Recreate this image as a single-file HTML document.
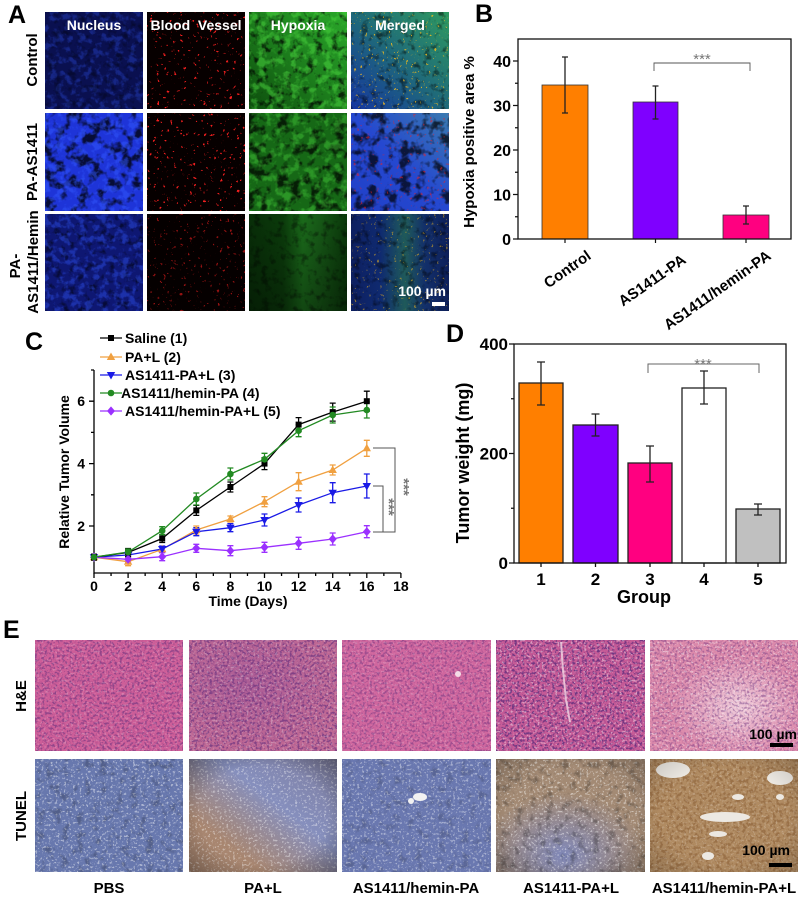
<!DOCTYPE html>
<html><head><meta charset="utf-8"><style>
html,body{margin:0;padding:0;background:#fff;}
svg{display:block;}
text{font-family:"Liberation Sans",Arial,sans-serif;font-weight:bold;}
</style></head><body>
<svg width="805" height="900" viewBox="0 0 805 900" xmlns="http://www.w3.org/2000/svg">
<defs>
<filter id="fDk" x="0" y="0" width="1" height="1" color-interpolation-filters="sRGB"><feTurbulence type="fractalNoise" baseFrequency="0.09" numOctaves="3" seed="1"/><feColorMatrix type="matrix" values="0 0 0 0 0 0 0 0 0 0 0 0 0 0 0 -5 0 0 0 2.6"/></filter>
<filter id="fDk2" x="0" y="0" width="1" height="1" color-interpolation-filters="sRGB"><feTurbulence type="fractalNoise" baseFrequency="0.13" numOctaves="3" seed="3"/><feColorMatrix type="matrix" values="0 0 0 0 0 0 0 0 0 0 0 0 0 0 0 -4 0 0 0 1.9"/></filter>
<filter id="fBl" x="0" y="0" width="1" height="1" color-interpolation-filters="sRGB"><feTurbulence type="fractalNoise" baseFrequency="0.14" numOctaves="3" seed="6"/><feColorMatrix type="matrix" values="0 0 0 0 0.2 0 0 0 0 0.35 0 0 0 0 1 5 0 0 0 -2.4"/></filter>
<filter id="fGn" x="0" y="0" width="1" height="1" color-interpolation-filters="sRGB"><feTurbulence type="fractalNoise" baseFrequency="0.12" numOctaves="3" seed="8"/><feColorMatrix type="matrix" values="0 0 0 0 0.3 0 0 0 0 0.85 0 0 0 0 0.25 5 0 0 0 -2.4"/></filter>
<filter id="fRd" x="0" y="0" width="1" height="1" color-interpolation-filters="sRGB"><feTurbulence type="fractalNoise" baseFrequency="0.3" numOctaves="2" seed="7"/><feColorMatrix type="matrix" values="0 0 0 0 0.95 0 0 0 0 0.12 0 0 0 0 0.12 14 0 0 0 -9.5"/></filter>
<filter id="fYl" x="0" y="0" width="1" height="1" color-interpolation-filters="sRGB"><feTurbulence type="fractalNoise" baseFrequency="0.35" numOctaves="2" seed="9"/><feColorMatrix type="matrix" values="0 0 0 0 1 0 0 0 0 0.75 0 0 0 0 0.1 14 0 0 0 -9.6"/></filter>
<filter id="fPu" x="0" y="0" width="1" height="1" color-interpolation-filters="sRGB"><feTurbulence type="fractalNoise" baseFrequency="0.4" numOctaves="2" seed="5"/><feColorMatrix type="matrix" values="0 0 0 0 0.42 0 0 0 0 0.2 0 0 0 0 0.5 5 0 0 0 -2.4"/></filter>
<filter id="fWs" x="0" y="0" width="1" height="1" color-interpolation-filters="sRGB"><feTurbulence type="fractalNoise" baseFrequency="0.45" numOctaves="2" seed="11"/><feColorMatrix type="matrix" values="0 0 0 0 1 0 0 0 0 1 0 0 0 0 1 8 0 0 0 -4.6"/></filter>
<filter id="fBr" x="0" y="0" width="1" height="1" color-interpolation-filters="sRGB"><feTurbulence type="fractalNoise" baseFrequency="0.3" numOctaves="2" seed="13"/><feColorMatrix type="matrix" values="0 0 0 0 0.55 0 0 0 0 0.38 0 0 0 0 0.22 6 0 0 0 -2.9"/></filter>

<linearGradient id="gA13" x1="1" y1="0" x2="0" y2="1"><stop offset="0" stop-color="#2aa82a"/><stop offset="0.5" stop-color="#1d7f1d"/><stop offset="1" stop-color="#0d4d0d"/></linearGradient>
<linearGradient id="gA14" x1="1" y1="0" x2="0" y2="1"><stop offset="0" stop-color="#2e9a60"/><stop offset="0.5" stop-color="#1f6a7a"/><stop offset="1" stop-color="#1535a0"/></linearGradient>
<linearGradient id="gA24" x1="1" y1="0" x2="0" y2="1"><stop offset="0" stop-color="#3a7ab0"/><stop offset="0.5" stop-color="#2548d0"/><stop offset="1" stop-color="#2040c8"/></linearGradient>
<linearGradient id="gA33" x1="0" y1="0" x2="1" y2="0"><stop offset="0" stop-color="#082e08"/><stop offset="0.35" stop-color="#0b3c0b"/><stop offset="0.55" stop-color="#1b6c1b"/><stop offset="0.72" stop-color="#175a17"/><stop offset="1" stop-color="#0a380a"/></linearGradient>
<linearGradient id="gA34" x1="0" y1="0" x2="1" y2="0"><stop offset="0" stop-color="#0d1f60"/><stop offset="0.3" stop-color="#0f2a70"/><stop offset="0.55" stop-color="#1f5a5a"/><stop offset="0.75" stop-color="#13306a"/><stop offset="1" stop-color="#0d1f5a"/></linearGradient>
<linearGradient id="gFadeB" x1="0" y1="0" x2="0" y2="1"><stop offset="0" stop-color="#000" stop-opacity="0"/><stop offset="1" stop-color="#000" stop-opacity="0.35"/></linearGradient>
<linearGradient id="gBlueBand" x1="0" y1="1" x2="1" y2="0"><stop offset="0.25" stop-color="#8290c6" stop-opacity="0"/><stop offset="0.6" stop-color="#8290c6" stop-opacity="0.9"/><stop offset="1" stop-color="#6f7cb4" stop-opacity="0.7"/></linearGradient>
<radialGradient id="gBlueLow" cx="0.45" cy="0.85" r="0.55"><stop offset="0" stop-color="#8088b8" stop-opacity="1"/><stop offset="1" stop-color="#8088b8" stop-opacity="0"/></radialGradient>
<radialGradient id="gVig" cx="0.5" cy="0.5" r="0.72"><stop offset="0.6" stop-color="#000" stop-opacity="0"/><stop offset="1" stop-color="#000" stop-opacity="0.35"/></radialGradient>
<radialGradient id="gWhite" cx="0.6" cy="0.6" r="0.45"><stop offset="0" stop-color="#fff" stop-opacity="0.55"/><stop offset="1" stop-color="#fff" stop-opacity="0"/></radialGradient>
<radialGradient id="gPurp" cx="0.4" cy="0.4" r="0.6"><stop offset="0" stop-color="#8a4a9a" stop-opacity="0.35"/><stop offset="1" stop-color="#8a4a9a" stop-opacity="0"/></radialGradient>

<path id="mSq" d="M-3,-3h6v6h-6z" fill="#000"/>
<path id="mUp" d="M0,-4.5L4.2,3L-4.2,3z" fill="#f0a040"/>
<path id="mDn" d="M-4.2,-3L4.2,-3L0,4.5z" fill="#1a1ae6"/>
<circle id="mCi" r="3.3" fill="#228a22"/>
<path id="mDi" d="M0,-4.6L4,0L0,4.6L-4,0z" fill="#9b30ff"/>
</defs>

<rect width="805" height="900" fill="#fff"/>

<!-- ================= PANEL A ================= -->
<text x="8" y="23" font-size="25">A</text>
<rect x="45" y="12" width="98" height="97" fill="#0a1050"/>
<rect x="45" y="12" width="98" height="97" filter="url(#fBl)" opacity="0.3"/>
<rect x="45" y="12" width="98" height="97" filter="url(#fDk2)" opacity="0.35"/>
<rect x="147" y="12" width="98" height="97" fill="#070000"/>
<rect x="147" y="12" width="98" height="97" filter="url(#fRd)"/>
<rect x="249" y="12" width="98" height="97" fill="url(#gA13)"/>
<rect x="249" y="12" width="98" height="97" filter="url(#fDk2)" opacity="0.7"/>
<rect x="249" y="12" width="98" height="97" filter="url(#fGn)" opacity="0.5"/>
<rect x="351" y="12" width="98" height="97" fill="url(#gA14)"/>
<rect x="351" y="12" width="98" height="97" filter="url(#fDk2)" opacity="0.5"/>
<rect x="351" y="12" width="98" height="97" filter="url(#fYl)" opacity="0.8"/>

<rect x="45" y="113" width="98" height="98" fill="#1e34d8"/>
<rect x="45" y="113" width="98" height="98" filter="url(#fDk)" opacity="0.75"/>
<rect x="45" y="113" width="98" height="98" filter="url(#fBl)" opacity="0.5"/>
<rect x="147" y="113" width="98" height="98" fill="#060000"/>
<rect x="147" y="113" width="98" height="98" filter="url(#fRd)"/>
<rect x="249" y="113" width="98" height="98" fill="#166816"/>
<rect x="249" y="113" width="98" height="98" filter="url(#fDk)" opacity="0.7"/>
<rect x="249" y="113" width="98" height="98" filter="url(#fGn)" opacity="0.4"/>
<rect x="351" y="113" width="98" height="98" fill="url(#gA24)"/>
<rect x="351" y="113" width="98" height="98" filter="url(#fDk)" opacity="0.7"/>
<rect x="351" y="113" width="98" height="98" filter="url(#fRd)" opacity="0.5"/>

<rect x="45" y="214" width="98" height="97" fill="#0e1772"/>
<rect x="45" y="214" width="98" height="97" filter="url(#fDk2)" opacity="0.5"/>
<rect x="45" y="214" width="98" height="97" filter="url(#fBl)" opacity="0.4"/>
<rect x="147" y="214" width="98" height="97" fill="#050000"/>
<rect x="147" y="214" width="98" height="97" filter="url(#fRd)" opacity="0.6"/>
<rect x="249" y="214" width="98" height="97" fill="url(#gA33)"/>
<rect x="249" y="214" width="98" height="97" fill="url(#gFadeB)"/>
<rect x="249" y="214" width="98" height="97" filter="url(#fDk2)" opacity="0.4"/>
<rect x="351" y="214" width="98" height="97" fill="url(#gA34)"/>
<rect x="351" y="214" width="98" height="97" filter="url(#fDk2)" opacity="0.45"/>
<rect x="351" y="214" width="98" height="97" filter="url(#fYl)" opacity="0.5"/>

<g fill="#fff" font-size="14" text-anchor="middle">
<text x="94" y="30">Nucleus</text>
<text x="196" y="30" xml:space="preserve">Blood  Vessel</text>
<text x="298" y="30">Hypoxia</text>
<text x="400" y="30">Merged</text>
</g>
<g font-size="15" text-anchor="middle">
<text transform="translate(37,60) rotate(-90)">Control</text>
<text transform="translate(37,162) rotate(-90)">PA-AS1411</text>
<text transform="translate(20,266) rotate(-90)">PA-</text>
<text transform="translate(38,262) rotate(-90)">AS1411/Hemin</text>
</g>
<text x="446" y="296" font-size="14" fill="#fff" text-anchor="end">100 µm</text>
<rect x="432" y="302" width="13" height="4" fill="#fff"/>

<!-- ================= PANEL B ================= -->
<text x="475" y="22" font-size="25">B</text>
<rect x="542" y="85" width="46" height="154" fill="#ff7f00" stroke="#333" stroke-width="0.8"/>
<rect x="633" y="102" width="45" height="137" fill="#7f00ff" stroke="#333" stroke-width="0.8"/>
<rect x="723" y="215" width="46" height="24" fill="#ff0080" stroke="#333" stroke-width="0.8"/>
<g stroke="#222" stroke-width="1.3" fill="none">
<path d="M565 57V113M562 57h6M562 113h6"/>
<path d="M655.5 86V119M652.5 86h6M652.5 119h6"/>
<path d="M746 206V224M743 206h6M743 224h6"/>
</g>
<rect x="518" y="39" width="273" height="200" fill="none" stroke="#111" stroke-width="1.3"/>
<g stroke="#111" stroke-width="1.2">
<path d="M513 239h5M513 194.5h5M513 150h5M513 105.5h5M513 61h5"/>
<path d="M515 216.75h3M515 172.25h3M515 127.75h3M515 83.25h3"/>
<path d="M565 239v4M655.5 239v4M746 239v4"/>
</g>
<g font-size="16" text-anchor="end">
<text x="511" y="245">0</text>
<text x="511" y="200.5">10</text>
<text x="511" y="156">20</text>
<text x="511" y="111.5">30</text>
<text x="511" y="67">40</text>
</g>
<text transform="translate(474,142) rotate(-90)" font-size="15" text-anchor="middle">Hypoxia positive area %</text>
<g font-size="15" text-anchor="end">
<text transform="translate(592,258) rotate(-35)">Control</text>
<text transform="translate(687,262) rotate(-35)">AS1411-PA</text>
<text transform="translate(772,258) rotate(-35)">AS1411/hemin-PA</text>
</g>
<path d="M654 71V63H750V71" stroke="#555" stroke-width="0.9" fill="none"/>
<text x="702" y="64" font-size="15" fill="#777" text-anchor="middle" style="font-weight:normal">***</text>

<!-- ================= PANEL C ================= -->
<text x="25" y="350" font-size="25">C</text>
<g stroke="#000" stroke-width="1.3">
<path d="M94 370V573H401" fill="none"/>
<path d="M94 573v5M128.1 573v5M162.2 573v5M196.3 573v5M230.4 573v5M264.5 573v5M298.6 573v5M332.7 573v5M366.8 573v5M400.9 573v5"/>
<path d="M111.05 573v3M145.15 573v3M179.25 573v3M213.35 573v3M247.45 573v3M281.55 573v3M315.65 573v3M349.75 573v3M383.85 573v3"/>
<path d="M89 526h5M89 463.6h5M89 401.2h5"/>
<path d="M91 557.2h3M91 494.8h3M91 432.4h3M91 370h3"/>
</g>
<g font-size="14" text-anchor="middle">
<text x="94" y="591">0</text><text x="128.1" y="591">2</text><text x="162.2" y="591">4</text><text x="196.3" y="591">6</text><text x="230.4" y="591">8</text><text x="264.5" y="591">10</text><text x="298.6" y="591">12</text><text x="332.7" y="591">14</text><text x="366.8" y="591">16</text><text x="400.9" y="591">18</text>
</g>
<g font-size="14" text-anchor="end">
<text x="85" y="531">2</text><text x="85" y="468.6">4</text><text x="85" y="406.2">6</text>
</g>
<text transform="translate(69,472) rotate(-90)" font-size="14" text-anchor="middle">Relative Tumor Volume</text>
<text x="248" y="606" font-size="14" text-anchor="middle">Time (Days)</text>

<g fill="none" stroke-width="1.3">
<polyline stroke="#f0a040" points="94,557.2 128.1,561.7 162.2,549.3 196.3,530 230.4,519 264.5,501.7 298.6,481.7 332.7,470 366.8,448.3"/>
<path stroke="#f0a040" d="M128.1 557.7V565.7M125.1 557.7h6M125.1 565.7h6M162.2 546.3V552.3M159.2 546.3h6M159.2 552.3h6M196.3 526V534M193.3 526h6M193.3 534h6M230.4 516V522M227.4 516h6M227.4 522h6M264.5 496.7V506.7M261.5 496.7h6M261.5 506.7h6M298.6 472.7V490.7M295.6 472.7h6M295.6 490.7h6M332.7 465V475M329.7 465h6M329.7 475h6M366.8 440.3V456.3M363.8 440.3h6M363.8 456.3h6"/>
<polyline stroke="#1a1ae6" points="94,557.2 128.1,555 162.2,549 196.3,531.7 230.4,527.7 264.5,520 298.6,505 332.7,492.7 366.8,486"/>
<path stroke="#1a1ae6" d="M128.1 552V558M125.1 552h6M125.1 558h6M162.2 546V552M159.2 546h6M159.2 552h6M196.3 527.7V535.7M193.3 527.7h6M193.3 535.7h6M230.4 523.7V531.7M227.4 523.7h6M227.4 531.7h6M264.5 514V526M261.5 514h6M261.5 526h6M298.6 498V512M295.6 498h6M295.6 512h6M332.7 482.7V502.7M329.7 482.7h6M329.7 502.7h6M366.8 474V498M363.8 474h6M363.8 498h6"/>
<polyline stroke="#9b30ff" points="94,557.2 128.1,559.3 162.2,556.7 196.3,548.3 230.4,550.7 264.5,547.3 298.6,543.3 332.7,539 366.8,531.7"/>
<path stroke="#9b30ff" d="M128.1 556.3V562.3M125.1 556.3h6M125.1 562.3h6M162.2 552.7V560.7M159.2 552.7h6M159.2 560.7h6M196.3 544.3V552.3M193.3 544.3h6M193.3 552.3h6M230.4 545.7V555.7M227.4 545.7h6M227.4 555.7h6M264.5 542.3V552.3M261.5 542.3h6M261.5 552.3h6M298.6 537.3V549.3M295.6 537.3h6M295.6 549.3h6M332.7 533V545M329.7 533h6M329.7 545h6M366.8 525.7V537.7M363.8 525.7h6M363.8 537.7h6"/>
<polyline stroke="#000" points="94,557.2 128.1,552.5 162.2,538.5 196.3,510.4 230.4,487 264.5,463.6 298.6,424.6 332.7,412.1 366.8,401.2"/>
<path stroke="#000" d="M94 554.2V560.2M91 554.2h6M91 560.2h6M128.1 548.5V556.5M125.1 548.5h6M125.1 556.5h6M162.2 534.5V542.5M159.2 534.5h6M159.2 542.5h6M196.3 505.4V515.4M193.3 505.4h6M193.3 515.4h6M230.4 482V492M227.4 482h6M227.4 492h6M264.5 457.6V469.6M261.5 457.6h6M261.5 469.6h6M298.6 417.6V431.6M295.6 417.6h6M295.6 431.6h6M332.7 403.1V421.1M329.7 403.1h6M329.7 421.1h6M366.8 391.2V411.2M363.8 391.2h6M363.8 411.2h6"/>
<polyline stroke="#228a22" points="94,557.2 128.1,552 162.2,530.7 196.3,499 230.4,474 264.5,459.3 298.6,430.7 332.7,415 366.8,410"/>
<path stroke="#228a22" d="M128.1 549V555M125.1 549h6M125.1 555h6M162.2 526.7V534.7M159.2 526.7h6M159.2 534.7h6M196.3 493V505M193.3 493h6M193.3 505h6M230.4 468V480M227.4 468h6M227.4 480h6M264.5 453.3V465.3M261.5 453.3h6M261.5 465.3h6M298.6 424.7V436.7M295.6 424.7h6M295.6 436.7h6M332.7 407V423M329.7 407h6M329.7 423h6M366.8 402V418M363.8 402h6M363.8 418h6"/>
</g>
<g>
<use href="#mUp" x="94" y="557.2"/><use href="#mUp" x="128.1" y="561.7"/><use href="#mUp" x="162.2" y="549.3"/><use href="#mUp" x="196.3" y="530"/><use href="#mUp" x="230.4" y="519"/><use href="#mUp" x="264.5" y="501.7"/><use href="#mUp" x="298.6" y="481.7"/><use href="#mUp" x="332.7" y="470"/><use href="#mUp" x="366.8" y="448.3"/>
<use href="#mDn" x="94" y="557.2"/><use href="#mDn" x="128.1" y="555"/><use href="#mDn" x="162.2" y="549"/><use href="#mDn" x="196.3" y="531.7"/><use href="#mDn" x="230.4" y="527.7"/><use href="#mDn" x="264.5" y="520"/><use href="#mDn" x="298.6" y="505"/><use href="#mDn" x="332.7" y="492.7"/><use href="#mDn" x="366.8" y="486"/>
<use href="#mDi" x="94" y="557.2"/><use href="#mDi" x="128.1" y="559.3"/><use href="#mDi" x="162.2" y="556.7"/><use href="#mDi" x="196.3" y="548.3"/><use href="#mDi" x="230.4" y="550.7"/><use href="#mDi" x="264.5" y="547.3"/><use href="#mDi" x="298.6" y="543.3"/><use href="#mDi" x="332.7" y="539"/><use href="#mDi" x="366.8" y="531.7"/>
<use href="#mSq" x="94" y="557.2"/><use href="#mSq" x="128.1" y="552.5"/><use href="#mSq" x="162.2" y="538.5"/><use href="#mSq" x="196.3" y="510.4"/><use href="#mSq" x="230.4" y="487"/><use href="#mSq" x="264.5" y="463.6"/><use href="#mSq" x="298.6" y="424.6"/><use href="#mSq" x="332.7" y="412.1"/><use href="#mSq" x="366.8" y="401.2"/>
<use href="#mCi" x="94" y="557.2"/><use href="#mCi" x="128.1" y="552"/><use href="#mCi" x="162.2" y="530.7"/><use href="#mCi" x="196.3" y="499"/><use href="#mCi" x="230.4" y="474"/><use href="#mCi" x="264.5" y="459.3"/><use href="#mCi" x="298.6" y="430.7"/><use href="#mCi" x="332.7" y="415"/><use href="#mCi" x="366.8" y="410"/>
</g>
<g stroke="#555" stroke-width="1" fill="none">
<path d="M373 448H395V532H373"/>
<path d="M373 486H383V532"/>
</g>
<g fill="#777" font-size="15" style="font-weight:normal">
<text transform="translate(399,487) rotate(90)" text-anchor="middle">***</text>
<text transform="translate(384,507) rotate(90)" text-anchor="middle">***</text>
</g>
<g stroke-width="1.3">
<path d="M100 338H122" stroke="#000"/><use href="#mSq" x="111" y="338"/>
<path d="M100 357H122" stroke="#f0a040"/><use href="#mUp" x="111" y="357"/>
<path d="M100 375H122" stroke="#1a1ae6"/><use href="#mDn" x="111" y="375"/>
<path d="M100 393H122" stroke="#228a22"/><use href="#mCi" x="111" y="393"/>
<path d="M100 411H122" stroke="#9b30ff"/><use href="#mDi" x="111" y="411"/>
</g>
<g font-size="14">
<text x="125" y="343">Saline (1)</text>
<text x="125" y="362">PA+L (2)</text>
<text x="125" y="380">AS1411-PA+L (3)</text>
<text x="121" y="398">AS1411/hemin-PA (4)</text>
<text x="125" y="416">AS1411/hemin-PA+L (5)</text>
</g>

<!-- ================= PANEL D ================= -->
<text x="446" y="342" font-size="25">D</text>
<g stroke="#222" stroke-width="1.3">
<rect x="519" y="383" width="44" height="180" fill="#ff7f00"/>
<rect x="573" y="425" width="45" height="138" fill="#7f00ff"/>
<rect x="628" y="463" width="44" height="100" fill="#ff0080"/>
<rect x="682" y="388" width="44" height="175" fill="#fff"/>
<rect x="736" y="509" width="44" height="54" fill="#c0c0c0"/>
</g>
<g stroke="#222" stroke-width="1.3" fill="none">
<path d="M541 362V405M537 362h8M537 405h8"/>
<path d="M595.5 414V436M591.5 414h8M591.5 436h8"/>
<path d="M650 446V482M646 446h8M646 482h8"/>
<path d="M704 371V404M700 371h8M700 404h8"/>
<path d="M758 504V515M754 504h8M754 515h8"/>
</g>
<rect x="514" y="344" width="272" height="219" fill="none" stroke="#111" stroke-width="1.3"/>
<g stroke="#111" stroke-width="1.3">
<path d="M509 563h5M509 453.5h5M509 344h5"/>
<path d="M511 508.25h3M511 398.75h3"/>
<path d="M541 563v4M595.5 563v4M650 563v4M704 563v4M758 563v4"/>
</g>
<g font-size="17" text-anchor="end">
<text x="508" y="569">0</text><text x="508" y="459.5">200</text><text x="508" y="350">400</text>
</g>
<g font-size="17" text-anchor="middle">
<text x="541" y="585">1</text><text x="595.5" y="585">2</text><text x="650" y="585">3</text><text x="704" y="585">4</text><text x="758" y="585">5</text>
</g>
<text x="644" y="603" font-size="18" text-anchor="middle">Group</text>
<text transform="translate(469,463) rotate(-90)" font-size="18" text-anchor="middle">Tumor weight (mg)</text>
<path d="M648 373V364H759V373" stroke="#666" stroke-width="1" fill="none"/>
<text x="703" y="369" font-size="15" fill="#777" text-anchor="middle" style="font-weight:normal">***</text>

<!-- ================= PANEL E ================= -->
<text x="3" y="638" font-size="25">E</text>
<rect x="35" y="640" width="148" height="111" fill="#cd5e98"/>
<rect x="35" y="640" width="148" height="111" filter="url(#fPu)" opacity="0.6"/>
<rect x="35" y="640" width="148" height="111" filter="url(#fWs)" opacity="0.2"/>

<rect x="189" y="640" width="148" height="111" fill="#bf6894"/>
<rect x="189" y="640" width="148" height="111" fill="url(#gPurp)"/>
<rect x="189" y="640" width="148" height="111" filter="url(#fPu)" opacity="0.7"/>
<rect x="189" y="640" width="148" height="111" filter="url(#fWs)" opacity="0.25"/>

<rect x="342" y="640" width="149" height="111" fill="#d0679e"/>
<rect x="342" y="640" width="149" height="111" filter="url(#fPu)" opacity="0.5"/>
<rect x="342" y="640" width="149" height="111" filter="url(#fWs)" opacity="0.2"/>
<circle cx="458" cy="674" r="3" fill="#f4dce6"/>

<rect x="496" y="640" width="149" height="111" fill="#c55a96"/>
<rect x="496" y="640" width="149" height="111" filter="url(#fPu)" opacity="0.9"/>
<rect x="496" y="640" width="149" height="111" filter="url(#fWs)" opacity="0.4"/>
<path d="M561 642L563 670L566 700L570 722" stroke="#f3d6e4" stroke-width="2" fill="none" opacity="0.8"/>

<rect x="650" y="640" width="148" height="111" fill="#dc8aab"/>
<rect x="650" y="640" width="148" height="111" fill="url(#gWhite)"/>
<rect x="650" y="640" width="148" height="111" filter="url(#fPu)" opacity="0.45"/>
<rect x="650" y="640" width="148" height="111" filter="url(#fWs)" opacity="0.4"/>

<rect x="35" y="759" width="148" height="113" fill="#6878ae"/>
<rect x="35" y="759" width="148" height="113" filter="url(#fWs)" opacity="0.45"/>
<rect x="35" y="759" width="148" height="113" filter="url(#fDk2)" opacity="0.2"/>

<rect x="189" y="759" width="148" height="113" fill="#a88670"/>
<rect x="189" y="759" width="148" height="113" fill="url(#gBlueBand)"/>
<rect x="189" y="759" width="148" height="113" filter="url(#fWs)" opacity="0.4"/>
<rect x="189" y="759" width="148" height="113" fill="url(#gVig)"/>

<rect x="342" y="759" width="149" height="113" fill="#6a78b0"/>
<rect x="342" y="759" width="149" height="113" filter="url(#fWs)" opacity="0.4"/>
<rect x="342" y="759" width="149" height="113" filter="url(#fDk2)" opacity="0.15"/>
<ellipse cx="420" cy="797" rx="7" ry="4" fill="#f2f2f2"/>
<ellipse cx="411" cy="801" rx="3" ry="3" fill="#f2f2f2"/>

<rect x="496" y="759" width="149" height="113" fill="#a38a74"/>
<rect x="496" y="759" width="149" height="113" fill="url(#gBlueLow)"/>
<rect x="496" y="759" width="149" height="113" filter="url(#fWs)" opacity="0.45"/>
<rect x="496" y="759" width="149" height="113" filter="url(#fDk2)" opacity="0.25"/>
<rect x="496" y="759" width="149" height="113" fill="url(#gVig)" opacity="0.7"/>

<rect x="650" y="759" width="148" height="113" fill="#b08b62"/>
<rect x="650" y="759" width="148" height="113" filter="url(#fBr)" opacity="0.6"/>
<rect x="650" y="759" width="148" height="113" filter="url(#fWs)" opacity="0.2"/>
<g fill="#ece8e2">
<ellipse cx="673" cy="770" rx="17" ry="8"/>
<ellipse cx="780" cy="778" rx="13" ry="7"/>
<ellipse cx="725" cy="817" rx="25" ry="5"/>
<ellipse cx="718" cy="834" rx="9" ry="3"/>
<ellipse cx="738" cy="797" rx="6" ry="3"/>
<ellipse cx="780" cy="797" rx="4" ry="3"/>
<ellipse cx="708" cy="856" rx="6" ry="4"/>
</g>
<rect x="650" y="759" width="148" height="113" fill="url(#gVig)" opacity="0.5"/>

<g font-size="15" text-anchor="middle">
<text transform="translate(26,696) rotate(-90)">H&amp;E</text>
<text transform="translate(26,816) rotate(-90)">TUNEL</text>
</g>
<g font-size="14" text-anchor="end">
<text x="797" y="739">100 µm</text>
<text x="790" y="855">100 µm</text>
</g>
<rect x="770" y="743" width="23" height="4" fill="#000"/>
<rect x="769" y="863" width="23" height="4" fill="#000"/>
<g font-size="15" text-anchor="middle">
<text x="109" y="893">PBS</text>
<text x="263" y="893">PA+L</text>
<text x="416" y="893">AS1411/hemin-PA</text>
<text x="571" y="893">AS1411-PA+L</text>
<text x="724" y="893">AS1411/hemin-PA+L</text>
</g>
</svg>
</body></html>
